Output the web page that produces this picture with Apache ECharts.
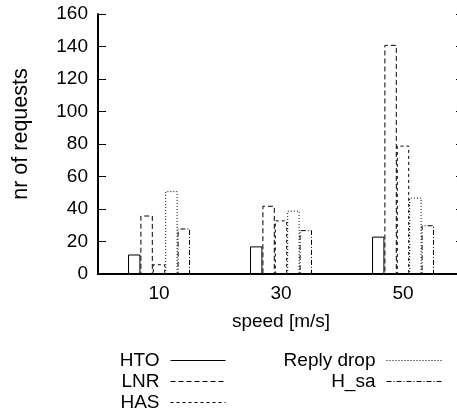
<!DOCTYPE html>
<html>
<head>
<meta charset="utf-8">
<script src="https://cdn.jsdelivr.net/npm/echarts@6/dist/echarts.min.js"></script>
<style>
html, body { margin: 0; padding: 0; background: #fff; }
#chart { width: 457px; height: 412px; }
</style>
</head>
<body>
<div id="chart"></div>
<script>
// Request counts per speed, one array per cause
const speeds = ['10', '30', '50'];
const hto = [12, 17, 23];
const lnr = [36, 42, 141];
const has = [6, 33, 79];
const replyDrop = [51, 39, 47];
const hSa = [28, 27, 30];

const yMin = 0;
const yMax = 160;
const yStep = 20;

const FONT = 'Liberation Sans, Arial, Helvetica, sans-serif';
const INK = '#000';

// gnuplot-like monochrome outline patterns
const seriesDefs = [
  { name: 'HTO', data: hto, dash: 'solid' },
  { name: 'LNR', data: lnr, dash: [5, 3] },
  { name: 'HAS', data: has, dash: [3, 3] },
  { name: 'Reply drop', data: replyDrop, dash: [1, 2] },
  { name: 'H_sa', data: hSa, dash: [5, 2, 1, 2] }
];

const textStyle = { color: INK, fontFamily: FONT, fontSize: 19 };
const border = { lineStyle: { color: INK, width: 2 } };

// legend sample: a horizontal stroke with a small blank lead-in
const keyIcon = 'path://M-6,0M0,0L55,0M0,-5M0,5';

function keyLegend(names, right) {
  return {
    data: names.map(n => ({
      name: n,
      itemStyle: { borderType: seriesDefs.find(s => s.name === n).dash }
    })),
    orient: 'vertical',
    align: 'right',
    right: right,
    top: 351,
    padding: 0,
    itemGap: 2,
    itemWidth: 61,
    itemHeight: 10,
    icon: keyIcon,
    selectedMode: false,
    itemStyle: { color: 'transparent', borderColor: INK, borderWidth: 1 },
    textStyle: Object.assign({}, textStyle, { lineHeight: 19 })
  };
}

const chart = echarts.init(document.getElementById('chart'), null, { renderer: 'canvas' });

chart.setOption({
  animation: false,
  backgroundColor: '#fff',
  grid: {
    left: 98, top: 14, width: 366, height: 260,
    containLabel: false,
    outerBoundsMode: 'none'
  },
  legend: [
    keyLegend(['HTO', 'LNR', 'HAS'], 231),
    keyLegend(['Reply drop', 'H_sa'], 15)
  ],
  xAxis: [
    {
      type: 'category',
      data: speeds,
      position: 'bottom',
      boundaryGap: true,
      axisLine: border,
      axisTick: { inside: true, alignWithLabel: true, length: 9, lineStyle: { color: INK, width: 1 } },
      axisLabel: Object.assign({ margin: 10 }, textStyle),
      splitLine: { show: false },
      name: 'speed [m/s]',
      nameLocation: 'middle',
      nameGap: 38,
      nameTextStyle: textStyle
    },
    {
      type: 'category',
      data: speeds,
      position: 'top',
      boundaryGap: true,
      axisLine: border,
      axisTick: { inside: true, alignWithLabel: true, length: 10, lineStyle: { color: INK, width: 1 } },
      axisLabel: { show: false },
      splitLine: { show: false }
    }
  ],
  yAxis: [
    {
      type: 'value',
      min: yMin, max: yMax, interval: yStep,
      position: 'left',
      axisLine: Object.assign({ show: true }, border),
      axisTick: { show: true, inside: true, length: 8, lineStyle: { color: INK, width: 1 } },
      axisLabel: Object.assign({ margin: 10 }, textStyle),
      splitLine: { show: false },
      name: 'nr of requests',
      nameLocation: 'middle',
      nameGap: 66,
      nameTextStyle: Object.assign({}, textStyle, { fontSize: 21.5, padding: [0, 0, 0, 20] })
    },
    {
      type: 'value',
      min: yMin, max: yMax, interval: yStep,
      position: 'right',
      axisLine: Object.assign({ show: true }, border),
      axisTick: { show: true, inside: true, length: 8, lineStyle: { color: INK, width: 1 } },
      axisLabel: { show: false },
      splitLine: { show: false }
    }
  ],
  series: seriesDefs.map(s => ({
    type: 'bar',
    name: s.name,
    data: s.data,
    xAxisIndex: 0,
    yAxisIndex: 0,
    barWidth: 12.4,
    barGap: '0%',
    silent: true,
    itemStyle: {
      color: 'transparent',
      borderColor: INK,
      borderWidth: 1,
      borderType: s.dash
    },
    emphasis: { disabled: true }
  }))
});
</script>
</body>
</html>
